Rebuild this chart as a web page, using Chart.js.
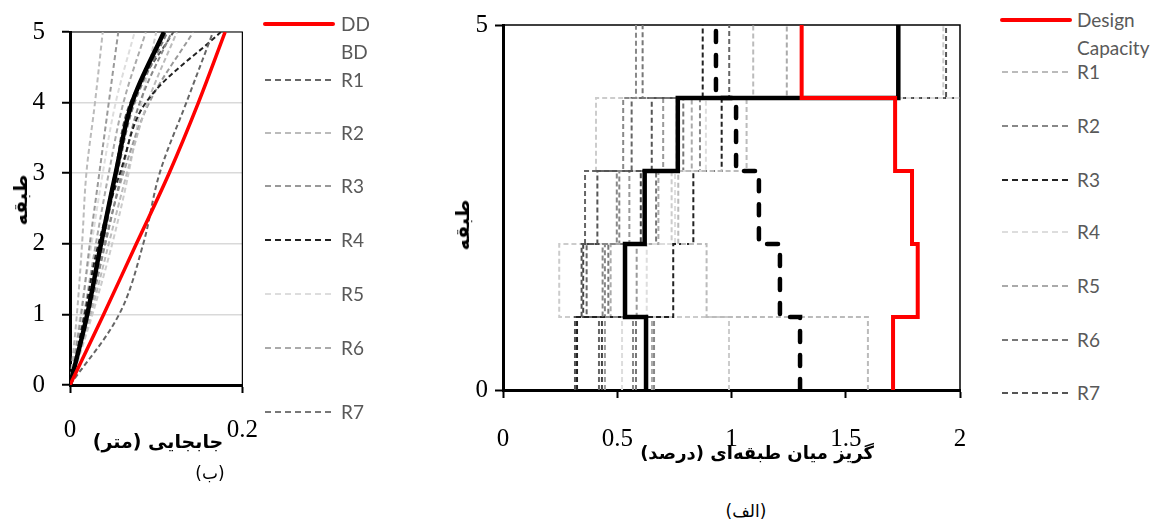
<!DOCTYPE html>
<html>
<head>
<meta charset="utf-8">
<script src="https://cdn.jsdelivr.net/npm/chart.js@4.4.0/dist/chart.umd.min.js"></script>
<style>
  body { margin:0; width:1161px; height:524px; background:#fff; position:relative; overflow:hidden; }
  .box { position:absolute; }
  .fa { position:absolute; font-family:"DejaVu Sans", sans-serif; font-weight:bold; color:#000; white-space:nowrap; direction:rtl; transform:translate(-50%,-50%); }
  .fa.rot { transform:translate(-50%,-50%) rotate(-90deg); }
  .fa.cap { font-weight:normal; }
  .leg { position:absolute; font-family:Lato, sans-serif; font-size:19px; color:#595959; z-index:2; }
  .leg .item { position:absolute; left:0; height:28px; white-space:nowrap; }
  .leg .item span { position:absolute; line-height:28px; top:0; }
</style>
</head>
<body>
<div class="box" style="left:0;top:0;width:280px;height:460px"><canvas id="chartB"></canvas></div>
<div class="box" style="left:440px;top:0;width:560px;height:470px"><canvas id="chartA"></canvas></div>

<div class="leg" id="legB" style="left:263px;top:0"></div>
<div class="leg" id="legA" style="left:1000px;top:0"></div>

<div class="fa" style="left:158px;top:441px;font-size:19px">جابجایی (متر)</div>
<div class="fa rot" style="left:20px;top:200px;font-size:19px">طبقه</div>
<div class="fa cap" style="left:210px;top:473px;font-size:17px">(ب)</div>

<div class="fa" style="left:757px;top:452px;font-size:18px">گریز میان طبقه‌ای (درصد)</div>
<div class="fa rot" style="left:462px;top:225px;font-size:19px">طبقه</div>
<div class="fa cap" style="left:746px;top:511px;font-size:17px">(الف)</div>

<script>
// ---- data: (ب) story displacement, m ----
const stories = [0, 1, 2, 3, 4, 5];
const recordNames = ['R1', 'R2', 'R3', 'R4', 'R5', 'R6', 'R7', 'R8', 'R9', 'R10', 'R11', 'R12'];
const dispDD = [0, 0.039, 0.077, 0.115, 0.149, 0.180];
const dispBD = [0, 0.020, 0.036, 0.053, 0.072, 0.109];
const dispRecords = [
  [0, 0.057, 0.085, 0.104, 0.135, 0.166],
  [0, 0.008, 0.014, 0.019, 0.029, 0.038],
  [0, 0.013, 0.023, 0.034, 0.045, 0.056],
  [0, 0.017, 0.033, 0.058, 0.088, 0.175],
  [0, 0.012, 0.025, 0.038, 0.053, 0.075],
  [0, 0.016, 0.030, 0.045, 0.062, 0.088],
  [0, 0.020, 0.038, 0.055, 0.075, 0.113],
  [0, 0.022, 0.041, 0.060, 0.081, 0.118],
  [0, 0.019, 0.035, 0.052, 0.070, 0.120],
  [0, 0.024, 0.045, 0.066, 0.090, 0.124],
  [0, 0.021, 0.040, 0.062, 0.092, 0.143],
  [0, 0.026, 0.049, 0.068, 0.083, 0.100]
];
const dispColors = ['#666', '#bbb', '#999', '#222', '#ddd', '#aaa', '#777', '#888', '#555', '#bbb', '#999', '#ccc'];

// ---- data: (الف) inter-story drift, % (stories 1..5) ----
const driftCapacity = [1.707, 1.815, 1.79, 1.716, 1.307];
const driftMean = [0.626, 0.534, 0.62, 0.765, 1.73];
const driftUpper = [1.30, 1.212, 1.12, 1.02, 0.932];
const driftRecords = [
  [1.597, 0.891, 0.767, 1.066, 1.095],
  [0.569, 0.436, 0.498, 0.526, 0.582],
  [0.324, 0.745, 0.833, 0.957, 0.874],
  [0.521, 0.629, 0.753, 0.888, 2.4],
  [0.652, 0.471, 0.680, 0.826, 1.242],
  [0.582, 0.461, 0.670, 0.789, 0.611],
  [0.315, 0.344, 0.413, 0.651, 1.939],
  [0.446, 0.585, 0.553, 0.701, 2.7],
  [0.420, 0.366, 0.359, 0.563, 0.990],
  [0.433, 0.351, 0.603, 0.761, 3.0],
  [0.989, 0.246, 0.738, 0.407, 1.927],
  [0.661, 0.446, 0.509, 0.862, 3.4]
];
const driftColors = ['#bbb', '#888', '#222', '#ddd', '#aaa', '#777', '#555', '#999', '#666', '#444', '#ccc', '#888'];

// legend rows as in the picture (only the first entries are visible)
const legendRowsB = [24, 52, 80, 133, 186, 240, 294, 348, 412];
const legendRowsA = [20, 72, 126, 180, 232, 286, 340, 393];

const tickFont = { family: 'Liberation Serif', size: 25 };
const DASH = [5, 3];

function profile(vals) {
  return vals.map((v, i) => ({ x: v, y: stories[i] }));
}
// story i drift drawn between floor i-1 and floor i
function steps(vals) {
  const pts = vals.map((v, i) => ({ x: v, y: stories[i] }));
  pts.push({ x: vals[vals.length - 1], y: stories[vals.length] });
  return pts;
}

const frame = {
  id: 'frame',
  beforeDatasetsDraw(chart, args, opts) {
    const { ctx, chartArea: a } = chart;
    ctx.save();
    ctx.strokeStyle = '#000';
    ctx.lineWidth = opts.width || 1.2;
    ctx.beginPath();
    ctx.moveTo(a.left, a.top);
    ctx.lineTo(a.right, a.top);
    ctx.lineTo(a.right, a.bottom);
    ctx.stroke();
    ctx.restore();
  }
};

function axisX(min, max, step, height, pad) {
  return {
    type: 'linear', min, max,
    ticks: { stepSize: step, font: tickFont, color: '#000', padding: pad, maxRotation: 0, callback: v => String(v) },
    grid: { drawOnChartArea: false, tickLength: 8, tickColor: '#000', tickWidth: 2 },
    border: { color: '#000', width: 3 },
    afterFit: s => { s.height = height; }
  };
}

// ---------- (ب) ----------
const dsB = [
  { label: 'DD', data: profile(dispDD), borderColor: '#ff0000', borderWidth: 3.5 },
  { label: 'BD', data: profile(dispBD), borderColor: '#000', borderWidth: 4.5, noSample: true }
];
dispRecords.forEach((r, i) => dsB.push({
  label: recordNames[i], data: profile(r), borderColor: dispColors[i], borderWidth: 2, borderDash: DASH
}));

const chartB = new Chart(document.getElementById('chartB'), {
  type: 'scatter',
  data: { datasets: dsB.map(d => Object.assign({ showLine: true, pointRadius: 0, tension: 0.35, fill: false }, d)) },
  options: {
    responsive: true, maintainAspectRatio: false, animation: false,
    layout: { padding: { left: 0, right: 33, top: 28, bottom: 0 } },
    plugins: { legend: { display: false }, tooltip: { enabled: false }, frame: { width: 1.2 } },
    scales: {
      x: axisX(0, 0.2, 0.2, 75, 22),
      y: {
        min: 0, max: 5,
        ticks: { stepSize: 1, font: tickFont, color: '#000', padding: 17 },
        grid: { color: '#d9d9d9', lineWidth: 1.5, tickLength: 8, tickColor: '#000', tickWidth: 2 },
        border: { color: '#000', width: 3 },
        afterFit: s => { s.width = 70; }
      }
    }
  },
  plugins: [frame]
});

// ---------- (الف) ----------
const dsA = [
  { label: 'Design Capacity', data: steps(driftCapacity), borderColor: '#ff0000', borderWidth: 4 },
  { label: 'Mean', data: steps(driftMean), borderColor: '#000', borderWidth: 4.5 },
  { label: 'Upper', data: steps(driftUpper), borderColor: '#000', borderWidth: 4.5, borderDash: [11, 13], borderCapStyle: 'round' }
];
driftRecords.forEach((r, i) => dsA.push({
  label: recordNames[i], data: steps(r), borderColor: driftColors[i], borderWidth: 2, borderDash: DASH
}));

const chartA = new Chart(document.getElementById('chartA'), {
  type: 'scatter',
  data: { datasets: dsA.map(d => Object.assign({ showLine: true, pointRadius: 0, stepped: 'after', fill: false }, d)) },
  options: {
    responsive: true, maintainAspectRatio: false, animation: false,
    layout: { padding: { left: 0, right: 40, top: 25, bottom: 0 } },
    plugins: { legend: { display: false }, tooltip: { enabled: false }, frame: { width: 1.5 } },
    scales: {
      x: axisX(0, 2, 0.5, 80, 26),
      y: {
        min: 0, max: 5,
        ticks: { stepSize: 5, font: tickFont, color: '#000', padding: 7 },
        grid: { drawOnChartArea: false, tickLength: 8, tickColor: '#000', tickWidth: 2 },
        border: { color: '#000', width: 3 },
        afterFit: s => { s.width = 63; }
      }
    }
  },
  plugins: [frame]
});

// ---------- html legends ----------
function sample(ds) {
  if (ds.noSample) return '';
  const dash = ds.borderDash ? `stroke-dasharray="6 4"` : '';
  const w = ds.borderDash ? 2 : 4;
  return `<svg width="72" height="28" style="position:absolute;left:0;top:0"><line x1="2" y1="14" x2="70" y2="14" stroke="${ds.borderColor}" stroke-width="${w}" ${dash} stroke-linecap="${ds.borderDash ? 'butt' : 'round'}"/></svg>`;
}
function buildLegend(el, items, rows, textLeft) {
  el.innerHTML = items.map((ds, i) => {
    const words = ds.label.split(' ');
    const txt = words.map((w, k) => `<span style="left:${textLeft}px;top:${k * 28}px">${w}</span>`).join('');
    return `<div class="item" style="top:${rows[i] - 14}px">${sample(ds)}${txt}</div>`;
  }).join('');
}
buildLegend(document.getElementById('legB'), [dsB[0], dsB[1]].concat(dsB.slice(2, 9)), legendRowsB, 78);
buildLegend(document.getElementById('legA'), [dsA[0]].concat(dsA.slice(3, 10)), legendRowsA, 77);
</script>
</body>
</html>
